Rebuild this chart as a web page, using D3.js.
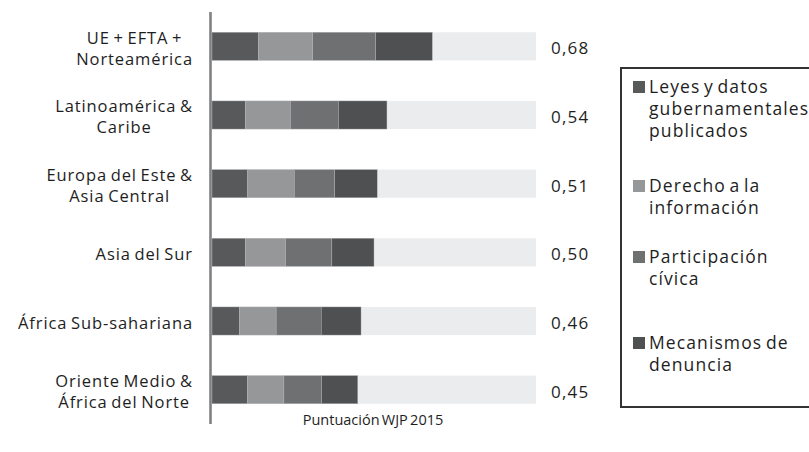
<!DOCTYPE html>
<html>
<head>
<meta charset="utf-8">
<script src="https://cdn.jsdelivr.net/npm/d3@7/dist/d3.min.js"></script>
<style>
  html, body { margin: 0; padding: 0; background: #fff; overflow: hidden; }
  svg { display: block; }
  text { font-family: "Open Sans", Lato, sans-serif; fill: #1e1e1e; }
</style>
</head>
<body>
<svg id="chart" width="809" height="452"></svg>
<script>
// Regions (each label may break over two lines)
const regions = [
  ["UE + EFTA +", "Norteamérica"],
  ["Latinoamérica &", "Caribe"],
  ["Europa del Este &", "Asia Central"],
  ["Asia del Sur"],
  ["África Sub-sahariana"],
  ["Oriente Medio &", "África del Norte"]
];
const totals = [0.68, 0.54, 0.51, 0.50, 0.46, 0.45];
const totalLabels = ["0,68", "0,54", "0,51", "0,50", "0,46", "0,45"];

// Contribution of each sub-factor to the overall score
const seriesNames = [
  ["Leyes y datos", "gubernamentales", "publicados"],
  ["Derecho a la", "información"],
  ["Participación", "cívica"],
  ["Mecanismos de", "denuncia"]
];
const leyes         = [0.143, 0.103, 0.110, 0.103, 0.084, 0.109];
const derecho       = [0.168, 0.139, 0.144, 0.124, 0.114, 0.113];
const participacion = [0.194, 0.148, 0.125, 0.143, 0.139, 0.116];
const mecanismos    = [0.175, 0.150, 0.131, 0.130, 0.123, 0.112];
const seriesColors = ["#58595b", "#969799", "#6f7072", "#4f5052"];
const axisTitle = "Puntuación WJP 2015";
const scaleMax = 1;

const svg = d3.select("#chart");

const x = d3.scaleLinear().domain([0, scaleMax]).range([212, 536]);
const y = d3.scaleBand().domain(d3.range(regions.length)).range([12, 424]).paddingInner(0.59).paddingOuter(0.295);

// Background track for the full scale
svg.append("g").selectAll("rect").data(d3.range(regions.length)).join("rect")
  .attr("x", x(0)).attr("y", i => y(i))
  .attr("width", x(scaleMax) - x(0)).attr("height", y.bandwidth())
  .attr("fill", "#ebecee");

// Stacked segments
const rows = d3.range(regions.length).map(i => ({
  i, leyes: leyes[i], derecho: derecho[i], participacion: participacion[i], mecanismos: mecanismos[i]
}));
const keys = ["leyes", "derecho", "participacion", "mecanismos"];
const stacked = d3.stack().keys(keys)(rows);

svg.append("g").selectAll("g").data(stacked).join("g")
  .attr("fill", (d, k) => seriesColors[k])
  .selectAll("rect").data(d => d).join("rect")
  .attr("x", d => x(d[0]))
  .attr("y", d => y(d.data.i))
  .attr("width", d => x(d[1]) - x(d[0]))
  .attr("height", y.bandwidth())
  .attr("stroke", "#b9babc").attr("stroke-width", 0.4);

// Vertical category axis line
const yAxis = svg.append("g").attr("transform", "translate(210.5,0)")
  .call(d3.axisLeft(y).tickSize(0).tickFormat(""));
yAxis.select(".domain").attr("stroke", "#808184").attr("stroke-width", 2.6)
  .attr("d", "M0,12V424");

// Category labels: lines centred on each other, block right-aligned
const lineH = 21;
regions.forEach((lines, i) => {
  const g = svg.append("g");
  const cy = y(i) + y.bandwidth() / 2 + 2;
  const texts = lines.map((ln, j) => g.append("text")
    .attr("y", cy + (j - (lines.length - 1) / 2) * lineH)
    .attr("dy", "0.36em")
    .attr("text-anchor", "middle")
    .style("font-size", "16.5px")
    .style("letter-spacing", "0.9px")
    .style("word-spacing", "-1.5px")
    .text(ln));
  const maxW = d3.max(texts, t => t.node().getComputedTextLength());
  texts.forEach(t => t.attr("x", 193 - maxW / 2));
});

// Total score labels
svg.append("g").selectAll("text").data(totalLabels).join("text")
  .attr("x", 551).attr("y", (d, i) => y(i) + y.bandwidth() / 2 + 2)
  .attr("dy", "0.36em")
  .style("font-size", "17px")
  .style("letter-spacing", "1.2px")
  .text(d => d);

// Axis title
svg.append("text").attr("x", 373).attr("y", 420).attr("dy", "0.36em")
  .attr("text-anchor", "middle").style("font-size", "14.5px")
  .style("word-spacing", "-1.5px")
  .text(axisTitle);

// Legend
const legend = svg.append("g");
legend.append("rect").attr("x", 621).attr("y", 68).attr("width", 260).attr("height", 339)
  .attr("fill", "none").attr("stroke", "#333").attr("stroke-width", 2);
const itemY = [87, 186, 257, 343];
seriesNames.forEach((lines, k) => {
  legend.append("rect").attr("x", 633).attr("y", itemY[k] - 6).attr("width", 12).attr("height", 12)
    .attr("fill", seriesColors[k]);
  lines.forEach((ln, j) => legend.append("text")
    .attr("x", 649).attr("y", itemY[k] + j * 22).attr("dy", "0.36em")
    .style("font-size", "17.5px")
    .style("letter-spacing", "1.1px")
    .style("word-spacing", "-2px")
    .text(ln));
});
</script>
</body>
</html>
